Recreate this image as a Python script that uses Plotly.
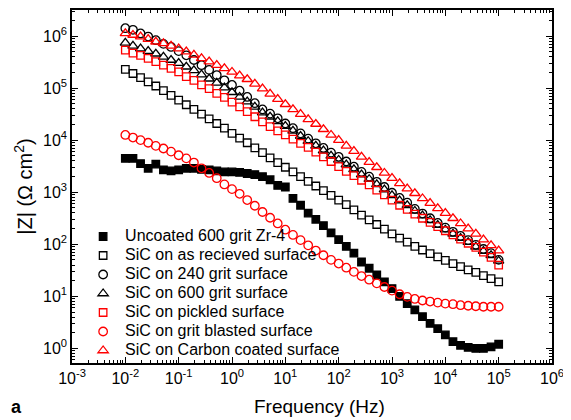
import plotly.graph_objects as go

# Frequencies (Hz), 7 points per decade from 1e-2 to 1e5
freq_hz = [
    0.01, 0.0139, 0.0193, 0.0268, 0.0373, 0.0518, 0.0720,
    0.1, 0.139, 0.193, 0.268, 0.373, 0.518, 0.720,
    1.0, 1.39, 1.93, 2.68, 3.73, 5.18, 7.20,
    10.0, 13.9, 19.3, 26.8, 37.3, 51.8, 72.0,
    100.0, 139.0, 193.0, 268.0, 373.0, 518.0, 720.0,
    1000.0, 1390.0, 1930.0, 2680.0, 3730.0, 5180.0, 7200.0,
    10000.0, 13900.0, 19300.0, 26800.0, 37300.0, 51800.0, 72000.0,
    100000.0,
]

# log10 |Z| (Ohm cm^2)
logz_uncoated = [
    3.65, 3.65, 3.55, 3.46, 3.54, 3.43, 3.41, 3.43, 3.46, 3.46,
    3.44, 3.43, 3.41, 3.39, 3.39, 3.38, 3.36, 3.34, 3.30, 3.24,
    3.13, 3.10, 2.88, 2.75, 2.60, 2.48, 2.36, 2.22, 2.09, 1.96,
    1.83, 1.66, 1.54, 1.41, 1.28, 1.15, 1.00, 0.86, 0.74, 0.61,
    0.48, 0.38, 0.26, 0.13, 0.06, 0.02, 0.00, 0.00, 0.03, 0.08,
]
logz_as_received = [
    5.36, 5.28, 5.20, 5.12, 5.04, 4.95, 4.86, 4.77, 4.68, 4.59,
    4.50, 4.41, 4.32, 4.23, 4.13, 4.04, 3.95, 3.85, 3.76, 3.66,
    3.57, 3.48, 3.39, 3.30, 3.21, 3.12, 3.03, 2.94, 2.85, 2.76,
    2.66, 2.56, 2.47, 2.38, 2.29, 2.20, 2.12, 2.04, 1.96, 1.89,
    1.82, 1.76, 1.69, 1.63, 1.57, 1.51, 1.46, 1.40, 1.34, 1.28,
]
logz_240_grit = [
    6.15, 6.12, 6.05, 5.99, 5.92, 5.85, 5.79, 5.71, 5.63, 5.54,
    5.44, 5.35, 5.25, 5.15, 5.06, 4.95, 4.83, 4.71, 4.59, 4.51,
    4.42, 4.32, 4.23, 4.13, 4.03, 3.94, 3.85, 3.76, 3.68, 3.59,
    3.49, 3.39, 3.30, 3.20, 3.10, 2.99, 2.89, 2.80, 2.68, 2.59,
    2.50, 2.41, 2.32, 2.24, 2.16, 2.08, 1.99, 1.91, 1.83, 1.70,
]
logz_600_grit = [
    5.87, 5.81, 5.76, 5.71, 5.66, 5.60, 5.54, 5.48, 5.41, 5.34,
    5.26, 5.18, 5.10, 5.01, 4.92, 4.83, 4.74, 4.64, 4.53, 4.45,
    4.36, 4.27, 4.18, 4.08, 3.98, 3.89, 3.80, 3.70, 3.62, 3.53,
    3.44, 3.34, 3.25, 3.15, 3.05, 2.94, 2.84, 2.75, 2.64, 2.55,
    2.46, 2.37, 2.28, 2.20, 2.12, 2.04, 1.95, 1.87, 1.79, 1.68,
]
logz_pickled = [
    5.73, 5.67, 5.63, 5.57, 5.51, 5.44, 5.38, 5.31, 5.22, 5.15,
    5.06, 4.99, 4.90, 4.82, 4.73, 4.64, 4.55, 4.45, 4.35, 4.26,
    4.18, 4.10, 4.02, 3.94, 3.86, 3.77, 3.68, 3.59, 3.49, 3.40,
    3.32, 3.23, 3.14, 3.04, 2.95, 2.85, 2.75, 2.67, 2.58, 2.50,
    2.42, 2.34, 2.26, 2.18, 2.10, 2.02, 1.94, 1.85, 1.75, 1.60,
]
logz_grit_blasted = [
    4.10, 4.05, 4.00, 3.95, 3.89, 3.84, 3.78, 3.71, 3.65, 3.57,
    3.46, 3.37, 3.27, 3.15, 3.06, 2.97, 2.85, 2.74, 2.62, 2.51,
    2.40, 2.28, 2.18, 2.08, 1.98, 1.88, 1.79, 1.70, 1.63, 1.55,
    1.47, 1.39, 1.32, 1.25, 1.18, 1.11, 1.04, 0.99, 0.95, 0.92,
    0.90, 0.88, 0.86, 0.85, 0.83, 0.82, 0.81, 0.80, 0.80, 0.80,
]
logz_carbon = [
    6.05, 6.02, 5.99, 5.94, 5.89, 5.86, 5.81, 5.76, 5.70, 5.64,
    5.57, 5.51, 5.44, 5.38, 5.31, 5.24, 5.17, 5.08, 4.99, 4.89,
    4.79, 4.69, 4.59, 4.50, 4.40, 4.31, 4.21, 4.10, 4.00, 3.89,
    3.79, 3.68, 3.58, 3.48, 3.37, 3.27, 3.17, 3.07, 2.98, 2.88,
    2.79, 2.69, 2.60, 2.50, 2.40, 2.30, 2.20, 2.09, 1.98, 1.88,
]

series_names = [
    "Uncoated 600 grit Zr-4",
    "SiC on as recieved surface",
    "SiC on 240 grit surface",
    "SiC on 600 grit surface",
    "SiC on pickled surface",
    "SiC on grit blasted surface",
    "SiC on Carbon coated surface",
]
series_logz = [logz_uncoated, logz_as_received, logz_240_grit, logz_600_grit,
               logz_pickled, logz_grit_blasted, logz_carbon]
symbols = ["square", "square-open", "circle-open", "triangle-up-open",
           "square-open", "circle-open", "triangle-up-open"]
colors = ["black", "black", "black", "black", "red", "red", "red"]
sizes = [7.5, 7.5, 8.5, 9, 7.5, 8.5, 9]

x_tick_vals = [1e-3, 1e-2, 1e-1, 1e0, 1e1, 1e2, 1e3, 1e4, 1e5, 1e6]
x_tick_text = ["10<sup>-3</sup>", "10<sup>-2</sup>", "10<sup>-1</sup>", "10<sup>0</sup>",
               "10<sup>1</sup>", "10<sup>2</sup>", "10<sup>3</sup>", "10<sup>4</sup>",
               "10<sup>5</sup>", "10<sup>6</sup>"]
y_tick_vals = [1e0, 1e1, 1e2, 1e3, 1e4, 1e5, 1e6]
y_tick_text = ["10<sup>0</sup>", "10<sup>1</sup>", "10<sup>2</sup>", "10<sup>3</sup>",
               "10<sup>4</sup>", "10<sup>5</sup>", "10<sup>6</sup>"]

FONT = "Arial, 'Liberation Sans', sans-serif"

fig = go.Figure()
for name, logz, sym, col, sz in zip(series_names, series_logz, symbols, colors, sizes):
    fig.add_trace(go.Scatter(
        x=freq_hz,
        y=[10 ** v for v in logz],
        mode="markers",
        name='<span style="font-size:16px">' + name + '</span>',
        marker=dict(symbol=sym, size=sz, color=col,
                    line=dict(color=col, width=1.3)),
    ))

minor_x = [m * 10 ** e for e in range(-3, 6) for m in range(2, 10)]
minor_y = [m * 10 ** e for e in range(-1, 7) for m in range(2, 10)]

axis_common = dict(
    type="log", ticks="inside", ticklen=6, tickwidth=1, tickcolor="black",
    showline=True, linecolor="black", linewidth=1.5, mirror="allticks",
    showgrid=False, zeroline=False,
    tickfont=dict(size=16, family=FONT, color="black"),
)

fig.update_xaxes(
    **axis_common, range=[-3, 6], tickmode="array",
    tickvals=x_tick_vals, ticktext=x_tick_text,
    minor=dict(ticks="inside", ticklen=3, tickcolor="black", tickvals=minor_x, showgrid=False),
)
fig.update_yaxes(
    **axis_common, range=[-0.28, 6.5], tickmode="array",
    tickvals=y_tick_vals, ticktext=y_tick_text,
    minor=dict(ticks="inside", ticklen=3, tickcolor="black", tickvals=minor_y, showgrid=False),
    title=dict(text="|Z| (\u03a9 cm<sup>2</sup>)", font=dict(size=20, family=FONT), standoff=5),
)

# The page body adds an 8px offset, so the figure is 8px smaller than the window
fig.update_layout(
    width=563, height=412,
    margin=dict(l=64, r=19, t=2, b=57, autoexpand=False),
    plot_bgcolor="white", paper_bgcolor="white",
    font=dict(family=FONT, color="black"),
    legend=dict(x=0.019, y=0.3995, xanchor="left", yanchor="top",
                bgcolor="rgba(0,0,0,0)", font=dict(size=10.5, family=FONT),
                itemwidth=34, tracegroupgap=0),
    annotations=[
        dict(text="Frequency (Hz)", xref="paper", yref="paper",
             x=0.515, y=-0.1246, xanchor="center", yanchor="middle",
             showarrow=False, font=dict(size=19, family=FONT)),
        dict(text="<b>a</b>", xref="paper", yref="paper",
             x=-0.115, y=-0.125, xanchor="center", yanchor="middle",
             showarrow=False, font=dict(size=18, family=FONT)),
    ],
)

fig.write_html("out.html")
